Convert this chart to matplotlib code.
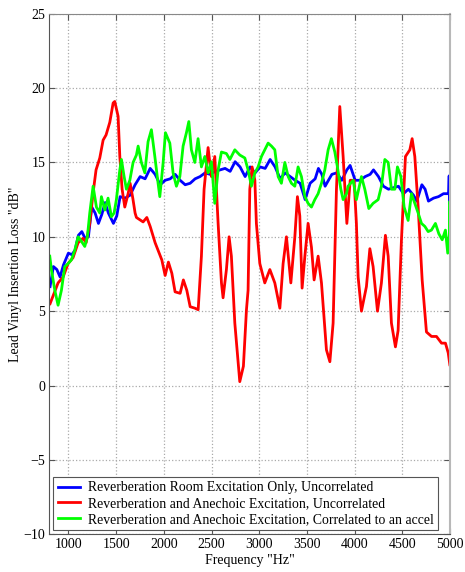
import matplotlib
matplotlib.use("Agg")
import matplotlib.pyplot as plt

plt.rcParams['font.family'] = ['Liberation Serif', 'DejaVu Serif']

# ---- data ----
blue_f = [808, 843, 879, 913, 948, 1000, 1036, 1070, 1105, 1141, 1175, 1210, 1245, 1280, 1315,
          1350, 1385, 1419, 1472, 1507, 1542, 1594, 1647, 1699, 1752, 1804, 1857, 1909, 1962,
          2014, 2067, 2119, 2171, 2224, 2276, 2328, 2380, 2433, 2485, 2538, 2590, 2642, 2695,
          2747, 2799, 2852, 2904, 2957, 3009, 3062, 3114, 3166, 3219, 3271, 3324, 3376, 3428,
          3481, 3533, 3586, 3620, 3656, 3690, 3725, 3761, 3813, 3865, 3918, 3952, 4005, 4057,
          4110, 4162, 4197, 4249, 4301, 4354, 4406, 4459, 4511, 4563, 4616, 4651, 4704, 4738,
          4773, 4826, 4878, 4931, 4966, 4983, 4990, 4995, 5000]
blue_db = [6.65, 8.0, 7.8, 7.3, 8.1, 8.9, 8.8, 9.1, 10.1, 10.35, 9.9, 10.0, 12.0, 11.6, 10.9,
           11.5, 12.3, 11.6, 10.9, 11.4, 12.7, 12.6, 12.8, 13.5, 14.05, 13.9, 14.6, 14.2, 13.5,
           13.8, 13.9, 14.2, 13.8, 13.5, 13.6, 13.9, 14.05, 14.3, 14.2, 14.4, 14.5, 14.6, 14.4,
           15.05, 14.7, 14.05, 14.7, 14.3, 14.7, 14.6, 15.2, 14.7, 13.9, 14.3, 14.05, 13.8, 13.6,
           12.5, 13.6, 13.9, 14.6, 14.2, 13.4, 13.8, 14.2, 14.3, 13.8, 14.5, 14.8, 13.8, 13.8,
           14.05, 14.2, 14.5, 14.05, 13.4, 13.2, 13.3, 13.4, 12.9, 13.2, 12.8, 12.4, 13.5, 13.2,
           12.4, 12.6, 12.7, 12.9, 12.9, 12.9, 14.1, 12.2, 14.0]

red_f = [808, 892, 945, 997, 1049, 1102, 1154, 1186, 1224, 1259, 1290, 1329, 1364, 1395, 1434,
         1469, 1486, 1521, 1539, 1563, 1591, 1626, 1647, 1675, 1699, 1713, 1783, 1822, 1857,
         1909, 1979, 2014, 2048, 2084, 2118, 2171, 2205, 2241, 2276, 2326, 2360, 2394, 2422,
         2464, 2499, 2534, 2569, 2604, 2621, 2656, 2684, 2708, 2744, 2796, 2834, 2866, 2883,
         2901, 2925, 2954, 2970, 3006, 3058, 3111, 3163, 3216, 3250, 3285, 3331, 3373, 3400,
         3425, 3449, 3478, 3512, 3547, 3575, 3617, 3652, 3704, 3740, 3774, 3809, 3844, 3879,
         3918, 3953, 3994, 4018, 4036, 4071, 4123, 4159, 4193, 4239, 4280, 4322, 4351, 4385,
         4427, 4455, 4490, 4532, 4578, 4602, 4630, 4665, 4707, 4752, 4805, 4857, 4910, 4951,
         4980, 4997]
red_db = [5.5, 6.9, 7.3, 8.2, 8.6, 9.6, 9.9, 9.6, 10.9, 12.95, 14.5, 15.3, 16.5, 16.85, 17.7,
          19.0, 19.1, 18.1, 15.4, 13.2, 12.0, 12.9, 13.6, 12.6, 11.6, 11.3, 11.0, 11.3, 10.7,
          9.6, 8.45, 7.4, 8.3, 7.55, 6.3, 6.2, 7.1, 6.4, 5.3, 5.2, 5.1, 8.7, 13.2,
          16.0, 14.05, 15.4, 10.9, 6.9, 5.9, 7.8, 10.0, 8.7, 4.2, 0.26, 1.3, 5.1, 6.4,
          13.2, 14.7, 13.8, 10.9, 8.2, 6.9, 7.8, 6.9, 5.2, 8.2, 10.0, 6.9, 10.0, 12.7,
          11.4, 6.55, 8.7, 10.9, 9.3, 7.1, 8.7, 6.9, 2.4, 1.6, 4.2, 13.2, 18.76, 15.4,
          10.9, 13.8, 13.8, 10.9, 7.3, 5.0, 6.65, 9.2, 8.0, 5.0, 6.9, 10.1, 8.7, 4.2,
          2.6, 3.7, 9.8, 15.4, 15.85, 16.6, 15.4, 12.0, 7.1, 3.6, 3.3, 3.3, 2.85, 2.85,
          2.2, 1.4]

green_f = [805, 822, 858, 892, 927, 962, 997, 1032, 1067, 1102, 1136, 1172, 1199, 1224, 1259,
           1294, 1329, 1346, 1382, 1416, 1451, 1479, 1503, 1539, 1556, 1584, 1608, 1644, 1678,
           1713, 1731, 1765, 1801, 1835, 1870, 1906, 1940, 1958, 1993, 2017, 2063, 2097, 2132,
           2168, 2202, 2237, 2262, 2289, 2325, 2359, 2394, 2430, 2464, 2499, 2534, 2569, 2604,
           2656, 2692, 2744, 2796, 2849, 2883, 2918, 2954, 2988, 3023, 3058, 3093, 3128, 3163,
           3198, 3232, 3268, 3303, 3337, 3373, 3407, 3442, 3478, 3512, 3547, 3582, 3617, 3652,
           3687, 3722, 3756, 3792, 3819, 3855, 3879, 3914, 3931, 3984, 4018, 4071, 4106, 4148,
           4193, 4246, 4280, 4316, 4351, 4385, 4421, 4448, 4484, 4518, 4560, 4595, 4630, 4665,
           4700, 4735, 4770, 4804, 4846, 4882, 4917, 4951, 4975, 4993, 4998, 5000]
green_db = [8.7, 7.8, 6.4, 5.4, 6.4, 8.0, 8.2, 8.45, 9.1, 10.0, 9.7, 9.35, 10.0, 11.6, 13.4,
            12.0, 11.6, 12.7, 11.8, 12.6, 11.35, 11.6, 12.5, 14.5, 15.2, 14.05, 13.2, 13.8, 15.0,
            15.5, 16.1, 15.0, 14.3, 16.4, 17.2, 15.4, 13.6, 12.7, 15.0, 17.0, 16.3, 14.3, 13.4,
            14.05, 16.1, 17.0, 17.75, 15.85, 15.0, 16.6, 14.7, 15.4, 14.3, 15.05, 12.25, 14.5, 15.7,
            15.6, 15.2, 15.85, 15.5, 15.3, 14.5, 13.4, 14.3, 14.7, 15.4, 15.85, 16.3, 16.1, 15.85,
            14.05, 13.6, 15.0, 14.05, 13.6, 13.4, 14.7, 14.05, 12.7, 12.25, 12.0, 12.5, 12.9, 13.6,
            14.5, 15.85, 16.6, 15.7, 14.7, 13.2, 12.5, 12.9, 13.4, 13.8, 12.5, 14.05, 13.2, 11.9,
            12.25, 12.5, 13.4, 15.2, 15.0, 13.2, 13.2, 14.7, 14.05, 12.0, 11.1, 12.9, 12.25, 11.6,
            10.9, 10.7, 10.35, 10.45, 10.9, 10.2, 9.8, 10.45, 8.9, 10.2, 12.4, 9.8]

labels = ['Reverberation Room Excitation Only, Uncorrelated',
          'Reverberation and Anechoic Excitation, Uncorrelated',
          'Reverberation and Anechoic Excitation, Correlated to an accel']
colors = ['#0000ff', '#ff0000', '#00ff00']

xticks = [1000, 1500, 2000, 2500, 3000, 3500, 4000, 4500, 5000]
yticks = [-10, -5, 0, 5, 10, 15, 20, 25]

fig = plt.figure(figsize=(4.65, 5.72), dpi=100)
ax = fig.add_axes([0.106, 0.066, 0.862, 0.910])

ax.plot(blue_f, blue_db, color=colors[0], lw=2.0, label=labels[0])
ax.plot(red_f, red_db, color=colors[1], lw=2.0, label=labels[1])
ax.plot(green_f, green_db, color=colors[2], lw=2.0, label=labels[2])

ax.set_xlim(800, 5000)
ax.set_ylim(-10, 25)
ax.set_xticks(xticks)
ax.set_yticks(yticks)
ax.grid(True, color='#aaaaaa', linestyle=':', linewidth=0.9)
ax.tick_params(direction='in', length=4, labelsize=10, top=True, right=True,
               color='#555555', pad=3)
for s in ['left', 'bottom']:
    ax.spines[s].set_color('#555555')
ax.spines['top'].set_color('#888888')
ax.spines['right'].set_color('#b8b8b8')
ax.spines['right'].set_linewidth(1.5)

ax.set_xlabel('Frequency "Hz"', fontsize=10, labelpad=2)
ax.set_ylabel('Lead Vinyl Insertion Loss "dB"', fontsize=10, labelpad=1)

leg = ax.legend(loc='lower left', fontsize=9.9, frameon=True, fancybox=False,
                edgecolor='#555555', framealpha=1, handlelength=1.6,
                borderaxespad=0.3, labelspacing=0.2, handletextpad=0.65,
                borderpad=0.3)
leg.get_frame().set_linewidth(0.8)

fig.savefig('out.png', dpi=100)
